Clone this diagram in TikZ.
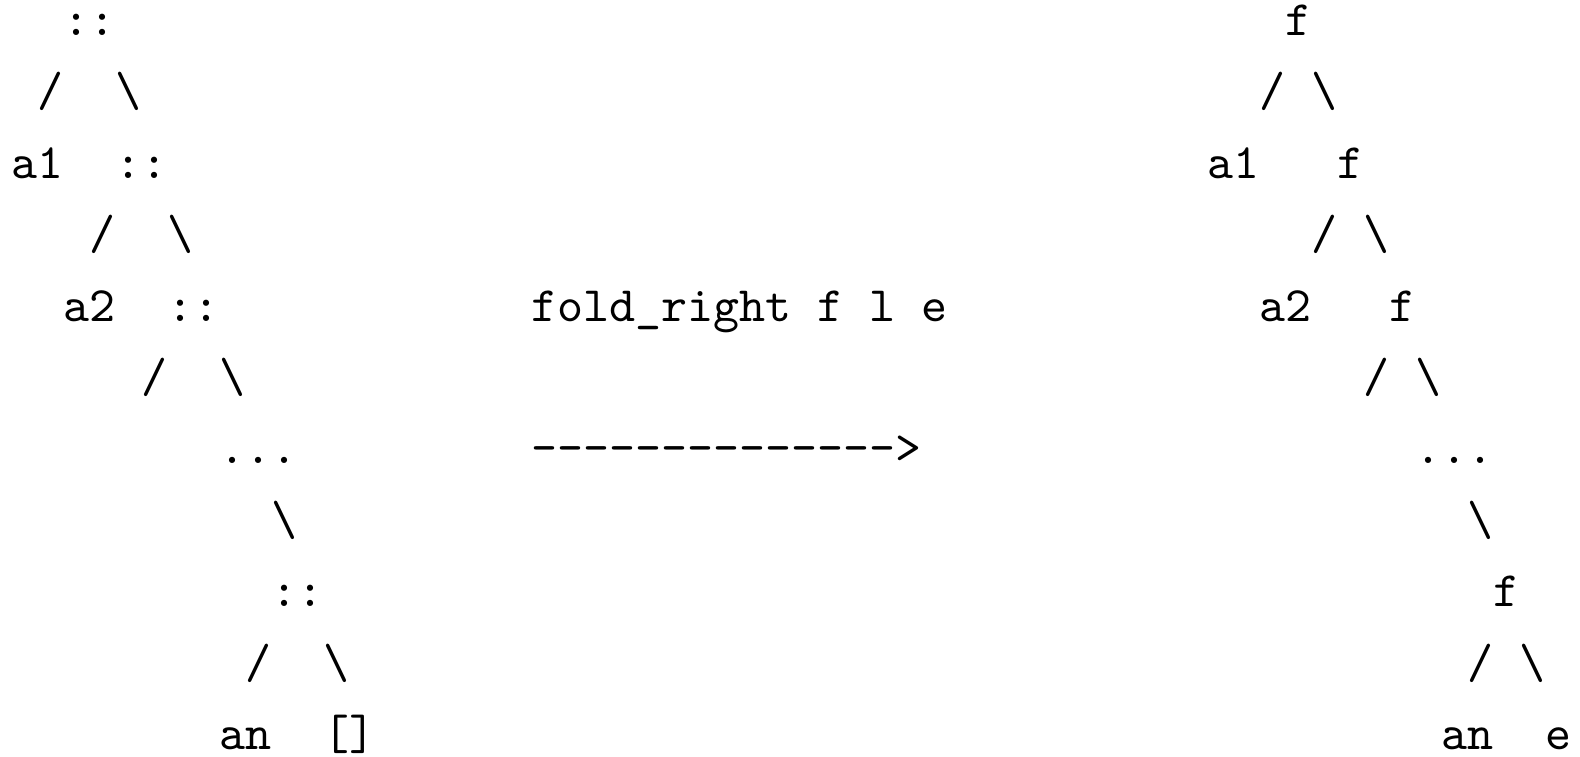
\documentclass[tikz,border=0pt]{standalone}
\font\asciitt="[lmmono10-regular]" at 24.76pt
\tikzset{
  tt/.style={anchor=base west, inner sep=0pt, outer sep=0pt,
    font=\asciitt}
}
\newcommand\tok[4]{\node[tt] (#1) at ({5.6+13*#2},{-(17.7+35.7*(#3-1))}) {#4};}
\begin{document}
\begin{tikzpicture}[x=1pt,y=1pt]
\useasboundingbox (0,0) rectangle (790,-378);
% left tree
\tok{lc1}{2}{1}{::}
\tok{ls1}{1}{2}{/}
\tok{lb1}{4}{2}{\textbackslash}
\tok{la1}{0}{3}{a1}
\tok{lc2}{4}{3}{::}
\tok{ls2}{3}{4}{/}
\tok{lb2}{6}{4}{\textbackslash}
\tok{la2}{2}{5}{a2}
\tok{lc3}{6}{5}{::}
\tok{ls3}{5}{6}{/}
\tok{lb3}{8}{6}{\textbackslash}
\tok{ldots}{8}{7}{...}
\tok{lb4}{10}{8}{\textbackslash}
\tok{lc4}{10}{9}{::}
\tok{ls4}{9}{10}{/}
\tok{lb5}{12}{10}{\textbackslash}
\tok{lan}{8}{11}{an}
\tok{lnil}{12}{11}{[]}
% middle
\tok{call}{20}{5}{fold\_right f l e}
\tok{arrow}{20}{7}{-{}-{}-{}-{}-{}-{}-{}-{}-{}-{}-{}-{}-{}-{}>}
% right tree
\tok{rf1}{49}{1}{f}
\tok{rs1}{48}{2}{/}
\tok{rb1}{50}{2}{\textbackslash}
\tok{ra1}{46}{3}{a1}
\tok{rf2}{51}{3}{f}
\tok{rs2}{50}{4}{/}
\tok{rb2}{52}{4}{\textbackslash}
\tok{ra2}{48}{5}{a2}
\tok{rf3}{53}{5}{f}
\tok{rs3}{52}{6}{/}
\tok{rb3}{54}{6}{\textbackslash}
\tok{rdots}{54}{7}{...}
\tok{rb4}{56}{8}{\textbackslash}
\tok{rf4}{57}{9}{f}
\tok{rs4}{56}{10}{/}
\tok{rb5}{58}{10}{\textbackslash}
\tok{ran}{55}{11}{an}
\tok{re}{59}{11}{e}
\end{tikzpicture}
\end{document}
